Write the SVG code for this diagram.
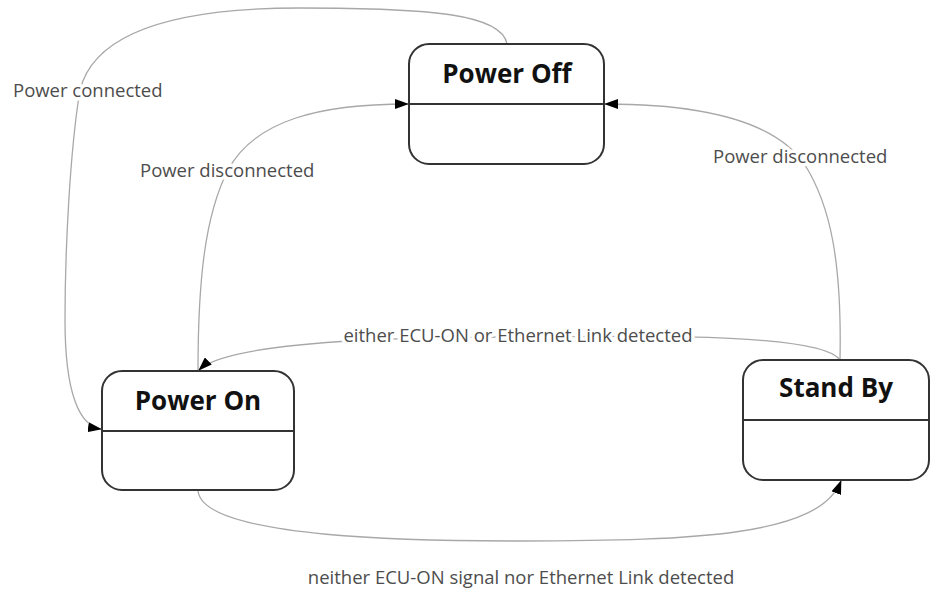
<svg xmlns="http://www.w3.org/2000/svg" width="931" height="592" viewBox="0 0 931 592">
<style>
.box{fill:#fff;stroke:#333;stroke-width:2}
.div{stroke:#333;stroke-width:2}
.title{font-family:"Open Sans","Liberation Sans",sans-serif;font-weight:bold;font-size:26px;fill:#111;text-anchor:middle}
.lbl{font-family:"Open Sans","Liberation Sans",sans-serif;font-size:18.5px;fill:#4d4d4d;stroke:#fff;stroke-width:7;paint-order:stroke;stroke-linejoin:round}
.edge{fill:none;stroke:#a8a8a8;stroke-width:1.3}
</style>
<defs>
<marker id="arr" viewBox="0 0 14 10" refX="13" refY="5" markerWidth="14" markerHeight="10" markerUnits="userSpaceOnUse" orient="auto">
<path d="M0,0 L14,5 L0,10 Z" fill="#000"/>
</marker>
</defs>
<g id="connectors">
<path class="edge" d="M507,44 C502,14 430,8 300,8 C180,8 95,30 80,90 C70,150 65,250 65,320 C65,395 80,426 101,429" marker-end="url(#arr)"/>
<path class="edge" d="M198,371 C198,280 205,215 228,170 C255,120 320,104 408,104" marker-end="url(#arr)"/>
<path class="edge" d="M840,360 C842,260 830,205 805,165 C775,120 700,104 605,104" marker-end="url(#arr)"/>
<path class="edge" d="M840,360 C820,330 600,337 520,337 C420,337 230,340 199,370" marker-end="url(#arr)"/>
<path class="edge" d="M198,490 C200,540 430,541 520,541 C700,541 820,535 841,481" marker-end="url(#arr)"/>
<text class="lbl" x="13" y="97">Power connected</text>
<text class="lbl" x="140" y="177">Power disconnected</text>
<text class="lbl" x="713" y="163">Power disconnected</text>
<text class="lbl" x="518" y="342" text-anchor="middle">either ECU-ON or Ethernet Link detected</text>
<text class="lbl" x="521" y="584" text-anchor="middle">neither ECU-ON signal nor Ethernet Link detected</text>
</g>
<g id="power-off">
<rect class="box" x="409" y="44" width="195" height="120" rx="20"/>
<line class="div" x1="409" y1="104" x2="604" y2="104"/>
<text class="title" x="507" y="83">Power Off</text>
</g>
<g id="power-on">
<rect class="box" x="102" y="371" width="192" height="119" rx="20"/>
<line class="div" x1="102" y1="431" x2="294" y2="431"/>
<text class="title" x="198" y="410">Power On</text>
</g>
<g id="stand-by">
<rect class="box" x="743" y="360" width="186" height="120" rx="20"/>
<line class="div" x1="743" y1="420" x2="929" y2="420"/>
<text class="title" x="836" y="397">Stand By</text>
</g>
</svg>
